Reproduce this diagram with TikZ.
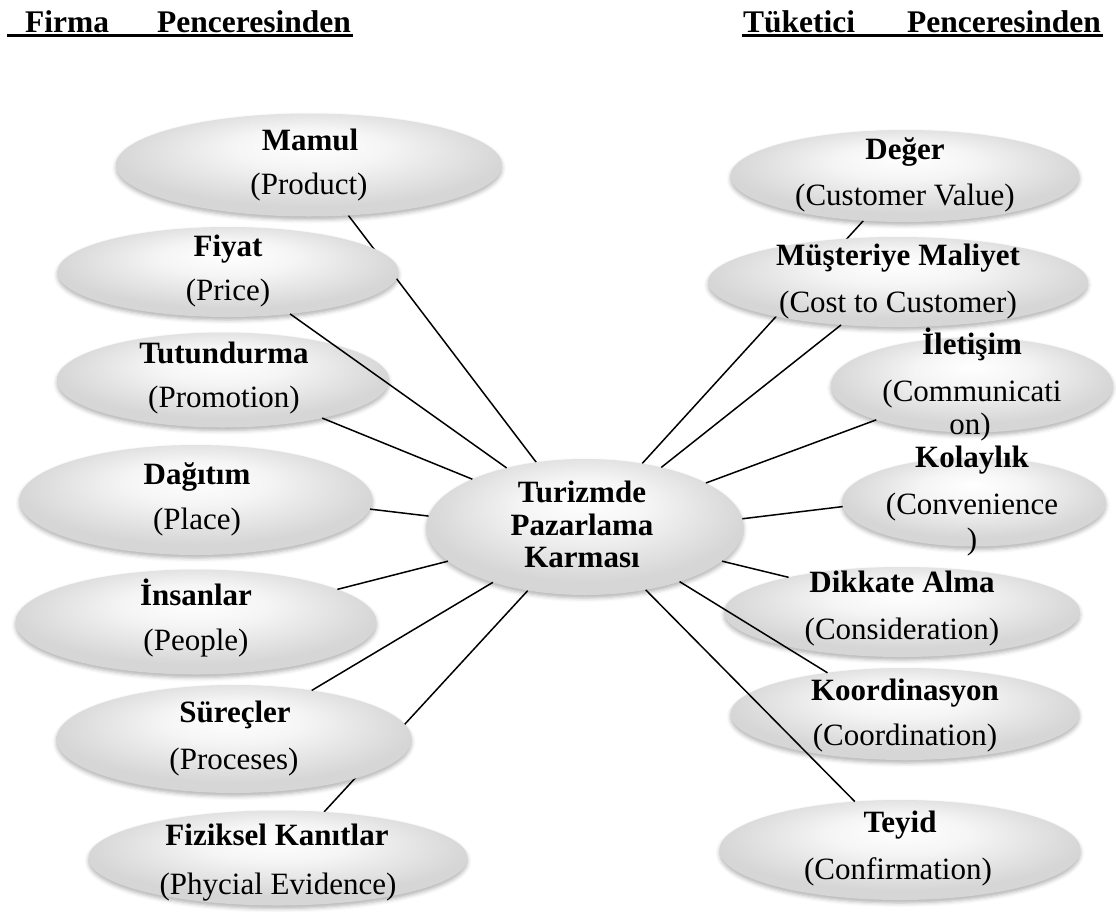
\documentclass[tikz,border=0pt]{standalone}
\usepackage{fontspec}
\setmainfont{Liberation Serif}
\usetikzlibrary{shapes.geometric,shadows.blur}
\pgfdeclarelayer{bg}
\pgfdeclarelayer{fg}
\pgfsetlayers{bg,main,fg}
% soft grey oval fill, lighter towards the upper middle
\pgfdeclareradialshading{ovalshade}{\pgfpoint{0bp}{10bp}}{%
  color(0bp)=(white); color(10bp)=(white!96!black);
  color(25bp)=(white!84!black); color(50bp)=(white!84!black)}

\begin{document}
\begin{tikzpicture}[x=1pt,y=-1pt,
  oval/.style={ellipse, shading=ovalshade, inner sep=0pt, outer sep=0pt,
    blur shadow={shadow xshift=0pt, shadow yshift=-3pt,
      shadow blur radius=4pt, shadow opacity=30}},
  ttl/.style={font=\fontsize{31}{36}\selectfont\bfseries, inner sep=0pt,
    text height=22pt, text depth=7pt},
  sub/.style={font=\fontsize{31}{36}\selectfont, inner sep=0pt,
    text height=22pt, text depth=7pt},
  hdr/.style={font=\fontsize{31.5}{36}\selectfont\bfseries, inner sep=0pt, anchor=base west},
  link/.style={line width=1.5pt, black},
  uline/.style={line width=2.6pt, black}]

\useasboundingbox (0,0) rectangle (1116,911);

% headings
\node[hdr] (h1a) at (25,32) {Firma};
\node[hdr] (h1b) at (157,32) {Penceresinden};
\node[hdr] (h2a) at (743,32) {Tüketici};
\node[hdr] (h2b) at (907,32) {Penceresinden};
\coordinate (u1a) at (7,35.5);
\coordinate (u1b) at (353,35.5);
\coordinate (u2a) at (742,35.5);
\coordinate (u2b) at (1103,35.5);
\draw[uline] (u1a) -- (u1b);
\draw[uline] (u2a) -- (u2b);

% ovals, left column
\node[oval, minimum width=386pt, minimum height=103pt] (mamul)  at (309,165) {};
\node[oval, minimum width=341pt, minimum height=90pt]  (fiyat)  at (228,272) {};
\node[oval, minimum width=332pt, minimum height=95pt]  (tutun)  at (223,380) {};
\node[oval, minimum width=353pt, minimum height=110pt] (dagit)  at (196,500) {};
\node[oval, minimum width=361pt, minimum height=105pt] (insan)  at (196,622) {};
\node[oval, minimum width=355pt, minimum height=108pt] (surec)  at (234,739) {};
\node[oval, minimum width=379pt, minimum height=95pt]  (fizik)  at (278,858) {};
% centre oval
\node[oval, minimum width=317pt, minimum height=136pt] (mix)    at (585,527) {};
% ovals, right column
\node[oval, minimum width=349pt, minimum height=92pt]  (deger)  at (905,176) {};
\node[oval, minimum width=380pt, minimum height=90pt]  (maliyet) at (898,282) {};
\node[oval, minimum width=282pt, minimum height=95pt]  (iletis) at (972,385) {};
\node[oval, minimum width=264pt, minimum height=89pt]  (kolay)  at (974,502) {};
\node[oval, minimum width=356pt, minimum height=90pt]  (dikkat) at (902,612) {};
\node[oval, minimum width=349pt, minimum height=92pt]  (koord)  at (905,714) {};
\node[oval, minimum width=361pt, minimum height=100pt] (teyid)  at (900,850) {};

% labels, left column
\node[ttl] (mamulA) at (310,143) {Mamul};
\node[sub] (mamulB) at (309,187) {(Product)};
\node[ttl] (fiyatA) at (228,249) {Fiyat};
\node[sub] (fiyatB) at (228,293) {(Price)};
\node[ttl] (tutunA) at (224,356) {Tutundurma};
\node[sub] (tutunB) at (224,400) {(Promotion)};
\node[ttl] (dagitA) at (197,477) {Dağıtım};
\node[sub] (dagitB) at (197,522) {(Place)};
\node[ttl] (insanA) at (196,598) {İnsanlar};
\node[sub] (insanB) at (196,643) {(People)};
\node[ttl] (surecA) at (235,715) {Süreçler};
\node[sub] (surecB) at (234,762) {(Proceses)};
\node[ttl] (fizikA) at (277,838) {Fiziksel Kanıtlar};
\node[sub] (fizikB) at (278,887) {(Phycial Evidence)};
% centre label
\node[ttl] (mixA) at (582,495) {Turizmde};
\node[ttl] (mixB) at (582,528) {Pazarlama};
\node[ttl] (mixC) at (582,560) {Karması};
% labels, right column
\node[ttl] (degerA) at (905,152) {Değer};
\node[sub] (degerB) at (905,198) {(Customer Value)};
\node[ttl] (maliyetA) at (898,258) {Müşteriye Maliyet};
\node[sub] (maliyetB) at (898,305) {(Cost to Customer)};
\node[ttl] (iletisA) at (972,347) {İletişim};
\node[sub] (iletisB) at (972,394) {(Communicati};
\node[sub] (iletisC) at (970,427) {on)};
\node[ttl] (kolayA) at (972,460) {Kolaylık};
\node[sub] (kolayB) at (972,507) {(Convenience};
\node[sub] (kolayC) at (972,542) {)};
\node[ttl] (dikkatA) at (902,585) {Dikkate Alma};
\node[sub] (dikkatB) at (902,632) {(Consideration)};
\node[ttl] (koordA) at (905,693) {Koordinasyon};
\node[sub] (koordB) at (905,738) {(Coordination)};
\node[ttl] (teyidA) at (900,825) {Teyid};
\node[sub] (teyidB) at (898,872) {(Confirmation)};

% spokes that run beneath a neighbouring oval
\begin{pgfonlayer}{bg}
\draw[link] (mix.127)   -- (mamul.-52);
\draw[link] (mix.228.3) -- (fizik.45.6);
\draw[link] (mix.48.3)  -- (deger.227.7);
\end{pgfonlayer}
% the remaining spokes, drawn over the ovals
\begin{pgfonlayer}{fg}
\draw[link] (mix.143.9) -- (fiyat.-34.8);
\draw[link] (mix.157.6) -- (tutun.-21.4);
\draw[link] (mix.176)   -- (dagit.-3.7);
\draw[link] (mix.194.1) -- (insan.13.9);
\draw[link] (mix.211.3) -- (surec.32);
\draw[link] (mix.38.7)  -- (maliyet.217.8);
\draw[link] (mix.20)    -- (iletis.200.5);
\draw[link] (mix.3.7)   -- (kolay.182.7);
\draw[link] (mix.-14.7) -- (dikkat.163.9);
\draw[link] (mix.-30.5) -- (koord.152);
\draw[link] (mix.-46.4) -- (teyid.133.8);
\end{pgfonlayer}
\end{tikzpicture}
\end{document}
